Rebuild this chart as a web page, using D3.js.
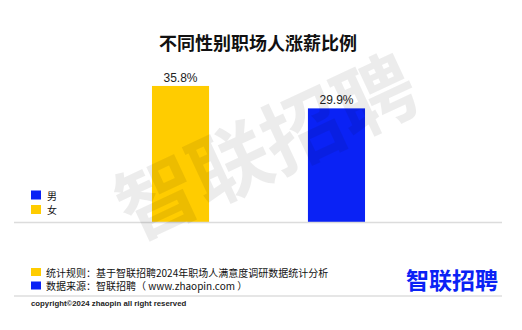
<!DOCTYPE html>
<html>
<head>
<meta charset="utf-8">
<script src="https://cdn.jsdelivr.net/npm/d3@7"></script>
<style>
  body { margin: 0; background: #fff; }
  svg { display: block; }
</style>
</head>
<body>
<script>
var w = 522, h = 330;

var title = "不同性别职场人涨薪比例";
var categories = ["女", "男"];
var values = [35.8, 29.9];
var colors = ["#ffcc00", "#0a22f5"];
var legendOrder = ["男", "女"];
var notes = ["统计规则：基于智联招聘2024年职场人满意度调研数据统计分析", "数据来源：智联招聘（ www.zhaopin.com ）"];
var copyright = "copyright©2024 zhaopin all right reserved";
var brand = "智联招聘";

var cjk = "'Noto Sans CJK SC', 'Noto Sans', sans-serif";
var latin = "'Liberation Sans', Arial, sans-serif";

var color = d3.scaleOrdinal().domain(categories).range(colors);

var xScale = d3.scaleBand()
    .domain(categories)
    .range([74, 443])
    .paddingInner(0.634)
    .paddingOuter(0.5);

var yScale = d3.scaleLinear()
    .domain([0, 40])
    .range([222, 70]);

var svg = d3.select("body")
    .append("svg")
    .attr("width", w)
    .attr("height", h);

// title
svg.append("text")
    .attr("x", 258)
    .attr("y", 42)
    .attr("text-anchor", "middle")
    .attr("dominant-baseline", "central")
    .style("font-family", cjk)
    .style("font-size", "18px")
    .style("font-weight", "bold")
    .style("fill", "#111")
    .text(title);

// bars
svg.selectAll("rect.bar")
    .data(values)
    .enter()
    .append("rect")
    .attr("class", "bar")
    .attr("x", function (d, i) { return xScale(categories[i]); })
    .attr("y", function (d) { return yScale(d); })
    .attr("width", xScale.bandwidth())
    .attr("height", function (d) { return yScale(0) - yScale(d); })
    .style("fill", function (d, i) { return color(categories[i]); });

svg.selectAll("text.val")
    .data(values)
    .enter()
    .append("text")
    .attr("class", "val")
    .attr("x", function (d, i) { return xScale(categories[i]) + xScale.bandwidth() / 2; })
    .attr("y", function (d) { return yScale(d) - 4; })
    .attr("text-anchor", "middle")
    .style("font-family", latin)
    .style("font-size", "12px")
    .style("fill", "#222")
    .text(function (d) { return d.toFixed(1) + "%"; });

// baseline
svg.append("line")
    .attr("x1", 14).attr("x2", 502)
    .attr("y1", yScale(0) + 0.5).attr("y2", yScale(0) + 0.5)
    .style("stroke", "#dcdcdc")
    .style("stroke-width", 1.5);

// legend
var legend = svg.selectAll("g.legend")
    .data(legendOrder)
    .enter()
    .append("g")
    .attr("class", "legend")
    .attr("transform", function (d, i) { return "translate(31," + (195 + i * 14.5) + ")"; });
legend.append("rect")
    .attr("x", 0).attr("y", -4.5)
    .attr("width", 10).attr("height", 9)
    .style("fill", function (d) { return color(d); });
legend.append("text")
    .attr("x", 16)
    .attr("dominant-baseline", "central")
    .style("font-family", cjk)
    .style("font-size", "10px")
    .style("fill", "#111")
    .text(function (d) { return d; });

// watermark
svg.append("text")
    .attr("transform", "translate(264,142) rotate(-25)")
    .attr("text-anchor", "middle")
    .attr("dominant-baseline", "central")
    .style("font-family", cjk)
    .style("font-size", "80px")
    .style("font-weight", "bold")
    .style("fill", "#000")
    .style("fill-opacity", 0.075)
    .text(brand);

// footer notes
var noteG = svg.selectAll("g.note")
    .data(notes)
    .enter()
    .append("g")
    .attr("class", "note")
    .attr("transform", function (d, i) { return "translate(31," + (272 + i * 13.5) + ")"; });
noteG.append("rect")
    .attr("x", 0).attr("y", -4)
    .attr("width", 10).attr("height", 8)
    .style("fill", function (d, i) { return colors[i]; });
noteG.append("text")
    .attr("x", 15)
    .attr("dominant-baseline", "central")
    .style("font-family", cjk)
    .style("font-size", "10px")
    .style("fill", "#111")
    .text(function (d) { return d; });

svg.append("line")
    .attr("x1", 14).attr("x2", 502)
    .attr("y1", 296).attr("y2", 296)
    .style("stroke", "#e6e6e6")
    .style("stroke-width", 2);

svg.append("text")
    .attr("x", 31)
    .attr("y", 303)
    .attr("dominant-baseline", "central")
    .style("font-family", latin)
    .style("font-size", "7.8px")
    .style("font-weight", "bold")
    .style("fill", "#222")
    .text(copyright);

// logo
svg.append("text")
    .attr("x", 498)
    .attr("y", 278.5)
    .attr("text-anchor", "end")
    .attr("dominant-baseline", "central")
    .style("font-family", cjk)
    .style("font-size", "23px")
    .style("font-weight", "bold")
    .style("fill", "#0a22f5")
    .text(brand);
</script>
</body>
</html>
